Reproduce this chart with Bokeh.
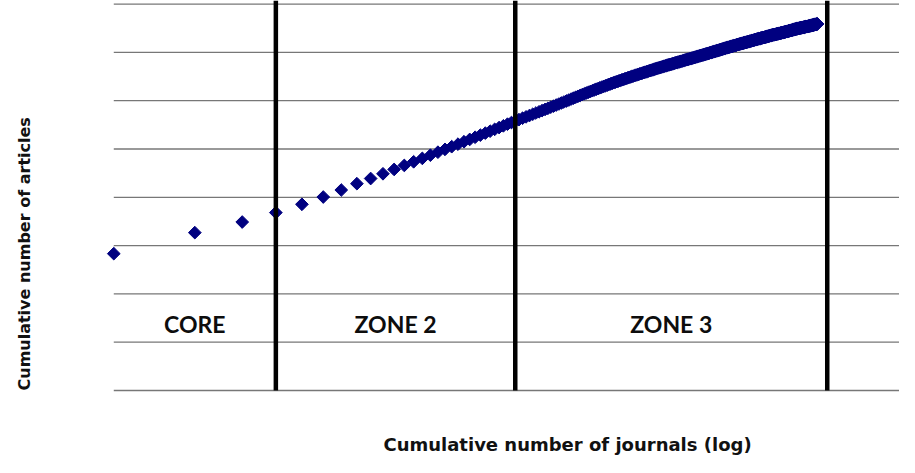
import numpy as np
from math import pi
from bokeh.plotting import figure
from bokeh.models import Range1d, Label, ColumnDataSource
from bokeh.core.properties import value
from bokeh.embed import file_html
from bokeh.resources import INLINE

# Bradford distribution: articles per journal (journals ranked
# by productivity) and how many journals have that many articles
articles_per_journal = [5666, 871, 439, 390, 344, 302, 290, 262, 214, 196,
                        180, 165, 152, 141, 132, 124, 117, 111, 105, 100,
                        95, 91, 87, 83, 80, 77, 74, 71, 69, 67,
                        62, 60, 58, 56, 55, 53, 52, 50, 49, 48,
                        47, 46, 45, 44, 43, 42, 41, 40, 39, 38,
                        37, 36, 35, 34, 33, 32, 31, 30, 29, 28,
                        27, 26, 25, 24, 23, 22, 21, 20, 19, 18,
                        17, 16, 15, 14, 13, 12, 11, 10, 9, 8,
                        7, 6, 5, 4, 3]
journals_with_count = [1, 1, 1, 1, 1, 1, 1, 1, 1, 1,
                       1, 1, 1, 1, 1, 1, 1, 1, 1, 1,
                       1, 1, 1, 1, 1, 1, 1, 1, 1, 1,
                       1, 1, 1, 1, 1, 1, 1, 1, 1, 1,
                       1, 1, 1, 1, 1, 1, 2, 2, 1, 1,
                       1, 1, 1, 1, 2, 1, 2, 1, 2, 2,
                       2, 2, 1, 2, 2, 2, 3, 3, 3, 4,
                       4, 5, 5, 5, 5, 9, 9, 18, 22, 18,
                       20, 33, 37, 65, 66]

# Zone boundaries (cumulative number of journals) and names
zone_edges = [4, 31, 447]
zone_names = ["CORE", "ZONE 2", "ZONE 3"]

# Horizontal gridlines (cumulative articles)
y_ticks = [0, 2000, 4000, 6000, 8000, 10000, 12000, 14000, 16000]

per_journal = np.repeat(articles_per_journal, journals_with_count)
cum_articles = np.cumsum(per_journal)
cum_journals = np.arange(1, len(per_journal) + 1)

src = ColumnDataSource(data=dict(x=cum_journals, y=cum_articles))

X_END = 829.3
Y_START, Y_END = -2774, 16149

p = figure(width=899, height=457, x_axis_type="log",
           x_range=Range1d(0.3795, X_END), y_range=Range1d(Y_START, Y_END),
           x_axis_location=None, y_axis_location=None,
           output_backend="svg", toolbar_location=None,
           min_border_left=0, min_border_right=0,
           min_border_top=0, min_border_bottom=0)
p.outline_line_color = None
p.background_fill_color = "white"
p.border_fill_color = "white"
p.xgrid.visible = False
p.ygrid.visible = False

# horizontal gridlines starting at the first journal
p.segment(x0=[1] * len(y_ticks), y0=y_ticks, x1=[X_END] * len(y_ticks), y1=y_ticks,
          line_color="#777777", line_width=1.3)

p.scatter("x", "y", source=src, marker="square", angle=pi / 4, size=9,
          fill_color="#000080", line_color="#000080")

p.segment(x0=zone_edges, y0=[0] * len(zone_edges), x1=zone_edges,
          y1=[Y_END] * len(zone_edges), line_color="black", line_width=4.5)

bounds = [1] + zone_edges
zone_x = [float(np.sqrt(bounds[i] * bounds[i + 1])) for i in range(len(zone_names))]
p.text(x=zone_x, y=[2774] * len(zone_names), text=zone_names,
       text_font=value("Lato"), text_font_style="bold", text_font_size="23px",
       text_align="center", text_baseline="middle", text_color="#0d0d0d")

xlab = Label(x=10.04, y=-2236, x_units="data", y_units="data",
             text="Cumulative number of journals (log)",
             text_font="DejaVu Sans", text_font_style="bold", text_font_size="18px",
             text_align="left", text_baseline="middle", text_color="#111111")
ylab = Label(x=0.465, y=0, x_units="data", y_units="data", angle=pi / 2,
             text="Cumulative number of articles",
             text_font="DejaVu Sans", text_font_style="bold", text_font_size="16px",
             text_align="left", text_baseline="middle", text_color="#111111")
p.add_layout(xlab)
p.add_layout(ylab)

open("out.html", "w").write(file_html(p, INLINE))
